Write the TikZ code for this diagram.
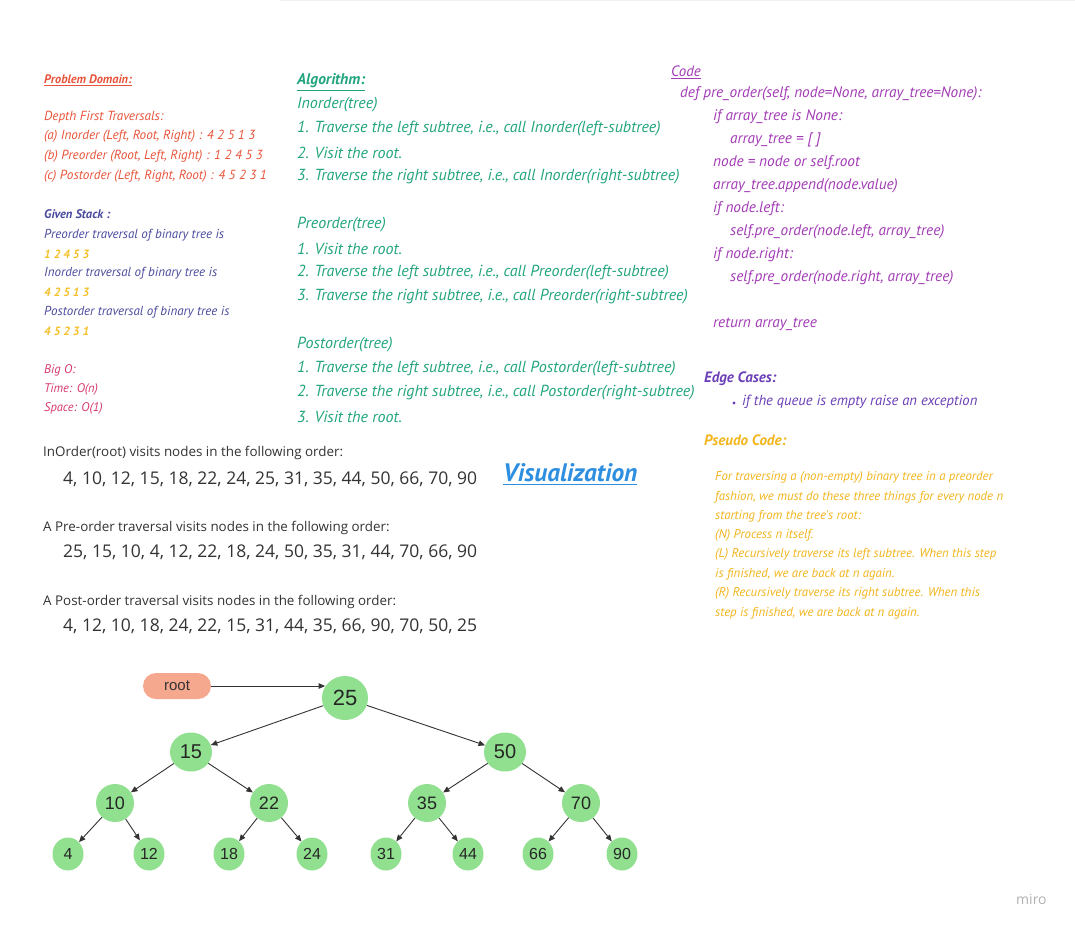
\documentclass[tikz,border=0pt]{standalone}
\usepackage{fontspec}
\setmainfont{Open Sans}
\newfontfamily\hand{PT Sans}
\newfontfamily\arialf{Liberation Sans}
\usetikzlibrary{shapes.geometric,arrows.meta}
\definecolor{pdred}{HTML}{E8543A}
\definecolor{gsblue}{HTML}{4B4B9E}
\definecolor{yel}{HTML}{F5C02A}
\definecolor{bigo}{HTML}{D63A6E}
\definecolor{algo}{HTML}{22A57E}
\definecolor{codec}{HTML}{A23BB5}
\definecolor{edgec}{HTML}{6B3FB8}
\definecolor{pseudo}{HTML}{F2B51C}
\definecolor{visc}{HTML}{2E8FE0}
\definecolor{tgreen}{HTML}{90E08F}
\definecolor{pill}{HTML}{F5A88E}
\definecolor{txt}{HTML}{333333}
\tikzset{
  hw/.style={anchor=west,inner sep=0pt,font=\hand\itshape\fontsize{#1}{#1}\selectfont},
  hwb/.style={anchor=west,inner sep=0pt,font=\hand\bfseries\itshape\fontsize{#1}{#1}\selectfont},
  sans/.style={anchor=west,inner sep=0pt,text=txt,font=\fontsize{#1}{#1}\selectfont},
  tnode/.style={ellipse,fill=tgreen,inner sep=0pt,text=black!85,font=\arialf\fontsize{#1}{#1}\selectfont},
  tarrow/.style={draw=txt,line width=0.9pt,-{Triangle[length=6.5pt,width=5.5pt]}},
  uline/.style={line width=0.8pt}
}
\begin{document}
\begin{tikzpicture}[x=1pt,y=-1pt]
\path[use as bounding box,fill=white] (0,0) rectangle (1075,930);
\draw[black!6,line width=2pt] (280,0) -- (1075,0);
% Problem domain
\node[hwb=12.3,text=pdred] (pd) at (44,79) {Problem Domain:};
\draw[pdred,uline] ([yshift=-2pt]pd.south west) -- ([yshift=-2pt]pd.south east);
\node[hw=13.2,text=pdred] (d1) at (44,117) {Depth First Traversals:};
\node[hw=13.2,text=pdred] (d2) at (44,136) {(a) Inorder (Left, Root, Right) : 4 2 5 1 3};
\node[hw=13.2,text=pdred] (d3) at (44,156) {(b) Preorder (Root, Left, Right) : 1 2 4 5 3};
\node[hw=13.2,text=pdred] (d4) at (44,176) {(c) Postorder (Left, Right, Root) : 4 5 2 3 1};
% Given stack
\node[hwb=12.5,text=gsblue] (gs) at (44,214) {Given Stack :};
\node[hw=13,text=gsblue] (g1) at (44,235) {Preorder traversal of binary tree is};
\node[hwb=12,text=yel] (g2) at (44,254) {1 2 4 5 3};
\node[hw=13,text=gsblue] (g3) at (44,273) {Inorder traversal of binary tree is};
\node[hwb=12,text=yel] (g4) at (44,292) {4 2 5 1 3};
\node[hw=13,text=gsblue] (g5) at (44,312) {Postorder traversal of binary tree is};
\node[hwb=12,text=yel] (g6) at (44,331) {4 5 2 3 1};
% Big O
\node[hw=12.5,text=bigo] (b1) at (44,370) {Big O:};
\node[hw=12.5,text=bigo] (b2) at (44,389) {Time: O(n)};
\node[hw=12.5,text=bigo] (b3) at (44,408) {Space: O(1)};
% Algorithm
\node[hwb=15.5,text=algo] (al) at (297,81) {Algorithm:};
\draw[algo,uline] ([yshift=-2pt]al.south west) -- ([yshift=-2pt]al.south east);
\foreach \n/\y/\t in {a1/105/{Inorder(tree)},
  a2/129/{1. Traverse the left subtree, i.e., call Inorder(left-subtree)},
  a3/153/{2. Visit the root.},
  a4/177/{3. Traverse the right subtree, i.e., call Inorder(right-subtree)},
  a5/225/{Preorder(tree)},
  a6/249/{1. Visit the root.},
  a7/273/{2. Traverse the left subtree, i.e., call Preorder(left-subtree)},
  a8/297/{3. Traverse the right subtree, i.e., call Preorder(right-subtree)},
  a9/345/{Postorder(tree)},
  a10/369/{1. Traverse the left subtree, i.e., call Postorder(left-subtree)},
  a11/393/{2. Traverse the right subtree, i.e., call Postorder(right-subtree)},
  a12/417/{3. Visit the root.}}{
  \node[hw=16,text=algo] (\n) at (297,\y) {\t};
}
% Code
\node[hw=15,text=codec] (cd) at (671,71) {Code};
\draw[codec,uline] ([yshift=-2pt]cd.south west) -- ([yshift=-2pt]cd.south east);
\node[hw=15.3,text=codec] (c1) at (680,94) {def pre\_order(self, node=None, array\_tree=None):};
\node[hw=15.3,text=codec] (c2) at (713,117) {if array\_tree is None:};
\node[hw=15.3,text=codec] (c3) at (730,140) {array\_tree = [ ]};
\node[hw=15.3,text=codec] (c4) at (713,163) {node = node or self.root};
\node[hw=15.3,text=codec] (c5) at (713,186) {array\_tree.append(node.value)};
\node[hw=15.3,text=codec] (c6) at (713,209) {if node.left:};
\node[hw=15.3,text=codec] (c7) at (730,232) {self.pre\_order(node.left, array\_tree)};
\node[hw=15.3,text=codec] (c8) at (713,255) {if node.right:};
\node[hw=15.3,text=codec] (c9) at (730,278) {self.pre\_order(node.right, array\_tree)};
\node[hw=15.3,text=codec] (c10) at (713,324) {return array\_tree};
% Edge cases
\node[hwb=15,text=edgec] (ec) at (704,379) {Edge Cases:};
\fill[edgec] (734,403) circle (1.7pt);
\node[hw=14.6,text=edgec] (e1) at (742,402) {if the queue is empty raise an exception};
% Pseudo code
\node[hwb=15,text=pseudo] (ps) at (704,440) {Pseudo Code:};
\foreach \n/\y/\t in {p1/477/{For traversing a (non-empty) binary tree in a preorder},
  p2/497/{fashion, we must do these three things for every node n},
  p3/516/{starting from the tree's root:},
  p4/535/{(N) Process n itself.},
  p5/554/{(L) Recursively traverse its left subtree. When this step},
  p6/574/{is finished, we are back at n again.},
  p7/593/{(R) Recursively traverse its right subtree. When this},
  p8/613/{step is finished, we are back at n again.}}{
  \node[hw=12.8,text=pseudo] (\n) at (715,\y) {\t};
}
% Traversal orders
\node[sans=13.4] (t1) at (43,453) {InOrder(root) visits nodes in the following order:};
\node[sans=17.5] (t2) at (63,479) {4, 10, 12, 15, 18, 22, 24, 25, 31, 35, 44, 50, 66, 70, 90};
\node[sans=13.4] (t3) at (43,528) {A Pre-order traversal visits nodes in the following order:};
\node[sans=17.5] (t4) at (63,552) {25, 15, 10, 4, 12, 22, 18, 24, 50, 35, 31, 44, 70, 66, 90};
\node[sans=13.4] (t5) at (43,602) {A Post-order traversal visits nodes in the following order:};
\node[sans=17.5] (t6) at (63,626) {4, 12, 10, 18, 24, 22, 15, 31, 44, 35, 66, 90, 70, 50, 25};
\node[hwb=25.3,text=visc] (vis) at (503,473) {Visualization};
\draw[visc,line width=1.2pt] ([yshift=-2pt]vis.south west) -- ([yshift=-2pt]vis.south east);
% Tree
\node[fill=pill,rounded corners=13pt,minimum width=68pt,minimum height=26pt,inner sep=0pt,text=black!80,font=\arialf\fontsize{15}{15}\selectfont] (root) at (177,686) {root};
\node[tnode=22,minimum width=46pt,minimum height=44pt] (n25) at (345,698) {25};
\node[tnode=20,minimum width=42pt,minimum height=39pt] (n15) at (191,752) {15};
\node[tnode=20,minimum width=42pt,minimum height=39pt] (n50) at (505,752) {50};
\node[tnode=18,minimum width=38pt,minimum height=38pt] (n10) at (115,803) {10};
\node[tnode=18,minimum width=38pt,minimum height=38pt] (n22) at (269,803) {22};
\node[tnode=18,minimum width=38pt,minimum height=38pt] (n35) at (427,803) {35};
\node[tnode=18,minimum width=38pt,minimum height=38pt] (n70) at (581,803) {70};
\foreach \v/\x in {4/68,12/149,18/229,24/312,31/386,44/468,66/538,90/622}{
  \node[tnode=16,minimum width=31pt,minimum height=33pt] (n\v) at (\x,854) {\v};
}
\draw[tarrow] (root.east) -- (root.east -| n25.150);
\draw[tarrow] (n25) -- (n15);
\draw[tarrow] (n25) -- (n50);
\draw[tarrow] (n15) -- (n10);
\draw[tarrow] (n15) -- (n22);
\draw[tarrow] (n50) -- (n35);
\draw[tarrow] (n50) -- (n70);
\draw[tarrow] (n10) -- (n4);
\draw[tarrow] (n10) -- (n12);
\draw[tarrow] (n22) -- (n18);
\draw[tarrow] (n22) -- (n24);
\draw[tarrow] (n35) -- (n31);
\draw[tarrow] (n35) -- (n44);
\draw[tarrow] (n70) -- (n66);
\draw[tarrow] (n70) -- (n90);
% logo
\node[sans=14,text=black!30] (miro) at (1016,899) {miro};
\end{tikzpicture}
\end{document}
